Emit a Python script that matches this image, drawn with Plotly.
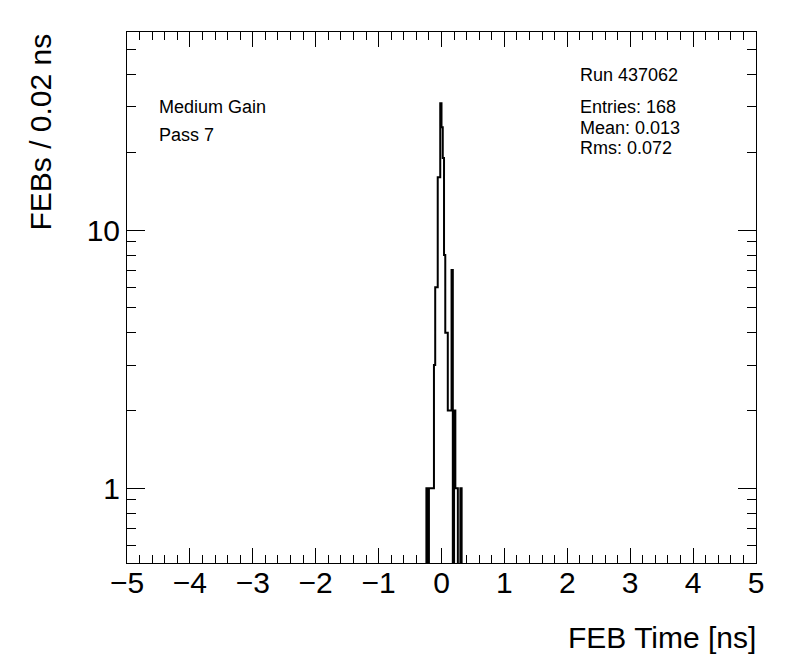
import numpy as np
import plotly.graph_objects as go

# ---- data ----
bin_width = 0.02          # ns
first_bin_low = -0.28     # ns, low edge of first listed bin
counts = [0, 0, 1, 0, 1, 1, 1, 1, 3, 6, 6, 16, 16, 31,
          25, 19, 8, 4, 4, 2, 2, 2, 7, 0, 2, 1, 1, 0, 0, 1, 0]
x_ticks = [-5, -4, -3, -2, -1, 0, 1, 2, 3, 4, 5]
y_ticks = [1, 10]
y_tick_labels = ["1", "10"]
y_minor = [0.6, 0.7, 0.8, 0.9, 2, 3, 4, 5, 6, 7, 8, 9, 20, 30, 40, 50]
left_text = ["Medium Gain", "Pass 7"]
run_text = "Run 437062"
stats_text = ["Entries: 168", "Mean: 0.013", "Rms: 0.072"]

# ---- build histogram outline ----
edges = first_bin_low + bin_width * np.arange(len(counts) + 1)
vals = np.array(counts + [counts[-1]], dtype=float)
vals_plot = np.where(vals > 0, vals, 1e-3)   # empty bins drop below the frame (log scale)

FONT = "Liberation Sans, Arial, Helvetica, sans-serif"
PW, PH = 629, 531   # plot-area size in px

fig = go.Figure()
fig.add_trace(go.Scatter(x=edges, y=vals_plot, mode="lines", line_shape="hv",
                         line=dict(color="black", width=2), showlegend=False,
                         hoverinfo="skip"))

axis_common = dict(showgrid=False, zeroline=False, showline=True, linecolor="black",
                   linewidth=1, mirror="allticks", ticks="inside", tickcolor="black",
                   tickwidth=1, tickfont=dict(family=FONT, size=30, color="black"))

fig.update_xaxes(range=[-5, 5], tickvals=x_ticks, ticklen=15, ticklabelstandoff=-7,
                 minor=dict(ticks="inside", ticklen=8, dtick=0.2, tickcolor="black", tickwidth=1),
                 **axis_common)
fig.update_yaxes(type="log", range=[np.log10(0.513), np.log10(58.5)],
                 tickvals=y_ticks, ticktext=y_tick_labels, ticklen=18,
                 minor=dict(ticks="inside", ticklen=9, tickvals=y_minor, tickcolor="black", tickwidth=1),
                 **axis_common)

annots = []
annots.append(dict(text="FEB Time [ns]", xref="paper", yref="paper", x=1.0 + 2 / PW, y=-74 / PH,
                   xanchor="right", yanchor="middle", showarrow=False,
                   font=dict(family=FONT, size=30, color="black")))
annots.append(dict(text="FEBs / 0.02 ns", xref="paper", yref="paper", x=-87 / PW, y=1.0,
                   xanchor="center", yanchor="top", textangle=-90, showarrow=False,
                   font=dict(family=FONT, size=30, color="black")))
for i, t in enumerate(left_text):
    annots.append(dict(text=t, xref="paper", yref="paper", x=(157 - 127) / PW,
                       y=(563 - (107 + 28 * i)) / PH, xanchor="left", yanchor="middle",
                       showarrow=False, font=dict(family=FONT, size=18, color="black")))
annots.append(dict(text=run_text, xref="paper", yref="paper", x=(578 - 127) / PW,
                   y=(563 - 75) / PH, xanchor="left", yanchor="middle", showarrow=False,
                   font=dict(family=FONT, size=18, color="black")))
for i, t in enumerate(stats_text):
    annots.append(dict(text=t, xref="paper", yref="paper", x=(578 - 127) / PW,
                       y=(563 - (107 + 20.5 * i)) / PH, xanchor="left", yanchor="middle",
                       showarrow=False, font=dict(family=FONT, size=18, color="black")))

# page body has an 8 px offset; margins compensate so the frame spans x 127-756, y 32-563
fig.update_layout(width=796, height=672, margin=dict(l=119, r=48, t=24, b=117),
                  paper_bgcolor="white", plot_bgcolor="white", annotations=annots,
                  font=dict(family=FONT, color="black"))

fig.write_html("out.html")
